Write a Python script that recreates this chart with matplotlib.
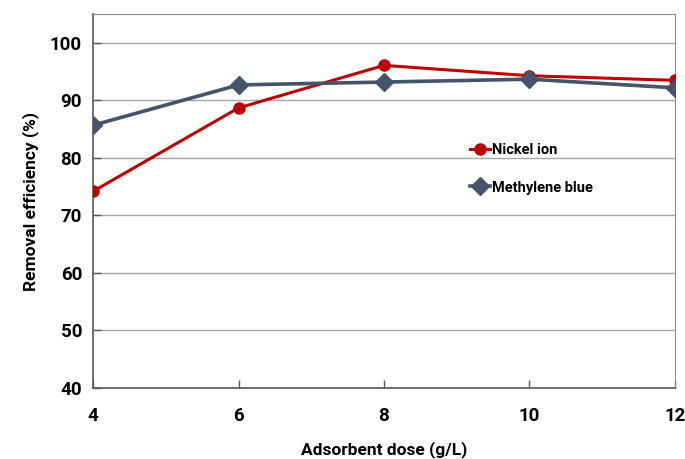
import matplotlib.pyplot as plt

# data
dose = [4, 6, 8, 10, 12]
nickel = [74.2, 88.7, 96.1, 94.3, 93.5]
methylene = [85.7, 92.7, 93.2, 93.7, 92.2]

plt.rcParams['font.family'] = ['Roboto', 'DejaVu Sans']
plt.rcParams['font.weight'] = 'bold'

fig = plt.figure(figsize=(6.85, 4.59), dpi=100)
ax = fig.add_axes([0.136, 0.155, 0.849, 0.814])

ax.plot(dose, nickel, color='#C00000', lw=2.2, marker='o', ms=8,
        label='Nickel ion', zorder=3)
ax.plot(dose, methylene, color='#44546A', lw=2.6, marker='D', ms=9.5,
        label='Methylene blue', zorder=4)

ax.set_xlim(4, 12)
ax.set_ylim(40, 105)
ax.set_xticks([4, 6, 8, 10, 12])
ax.set_yticks([40, 50, 60, 70, 80, 90, 100])
ax.grid(axis='y', color='#A6A6A6', lw=1)
ax.set_axisbelow(True)
ax.tick_params(direction='in', length=6, width=1, color='#595959',
               labelsize=13.5, pad=8)
ax.tick_params(axis='x', pad=14)
for lab in ax.get_xticklabels() + ax.get_yticklabels():
    lab.set_fontweight('bold')
for side in ['left', 'bottom']:
    ax.spines[side].set_color('#595959')
    ax.spines[side].set_linewidth(1.2)
for side in ['top', 'right']:
    ax.spines[side].set_color('#8C8C8C')

ax.set_ylabel('Removal efficiency (%)', fontsize=12.5, fontweight='bold',
              labelpad=8)
# the reference crops this label at the bottom edge; keep it just inside
ax.set_xlabel('Adsorbent dose (g/L)', fontsize=12.5, fontweight='bold',
              labelpad=11)

ax.legend(loc='upper left', bbox_to_anchor=(0.625, 0.69), frameon=False,
          handlelength=1.4, handletextpad=0.1, labelspacing=1.6,
          prop={'size': 10.5, 'weight': 'bold'})

fig.savefig('out.png', dpi=100)
